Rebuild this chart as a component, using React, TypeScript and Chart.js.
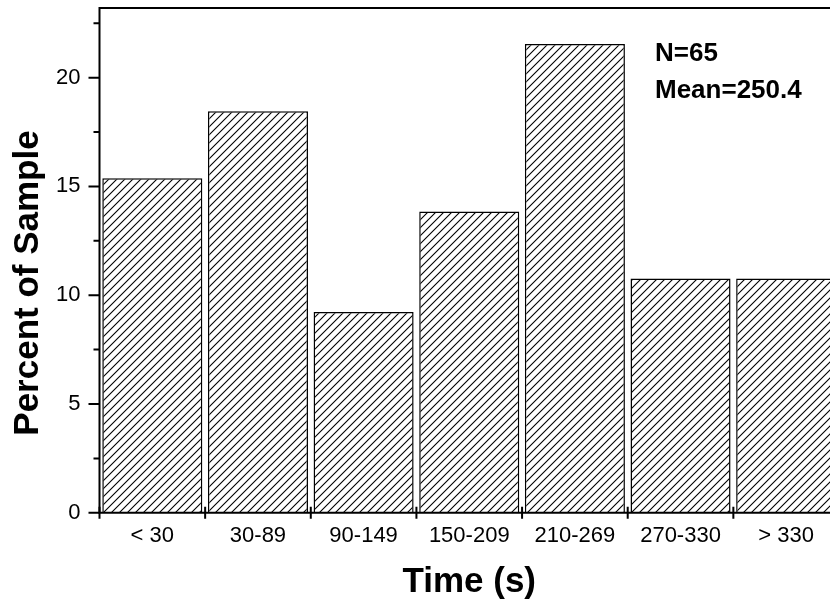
import React, { useEffect, useRef } from "react";
import { Chart, registerables } from "chart.js";

Chart.register(...registerables);

const categories = ["< 30", "30-89", "90-149", "150-209", "210-269", "270-330", "> 330"];
const percentValues = [15.38, 18.46, 9.23, 13.85, 21.54, 10.77, 10.77];
const yTickValues = [0, 5, 10, 15, 20];
const yMinorTickValues = [2.5, 7.5, 12.5, 17.5, 22.5];
const annotationLines = ["N=65", "Mean=250.4"];
const xTitle = "Time (s)";
const yTitle = "Percent of Sample";

const FONT = "'Liberation Sans', Arial, sans-serif";

function makeHatch(ctx: CanvasRenderingContext2D) {
  const c = document.createElement("canvas");
  c.width = 8;
  c.height = 8;
  const g = c.getContext("2d")!;
  g.fillStyle = "#fff";
  g.fillRect(0, 0, 8, 8);
  g.strokeStyle = "#000";
  g.lineWidth = 1.1;
  g.beginPath();
  g.moveTo(-1, 9);
  g.lineTo(9, -1);
  g.moveTo(-1, 1);
  g.lineTo(1, -1);
  g.moveTo(7, 9);
  g.lineTo(9, 7);
  g.stroke();
  return ctx.createPattern(c, "repeat");
}

const framePlugin = {
  id: "frameAndText",
  afterDraw(chart: any) {
    const ctx: CanvasRenderingContext2D = chart.ctx;
    const { left, right, top, bottom } = chart.chartArea;
    const xs = chart.scales.x;
    const ys = chart.scales.y;
    ctx.save();
    ctx.strokeStyle = "#000";
    ctx.lineWidth = 2;
    ctx.beginPath();
    ctx.moveTo(left, top);
    ctx.lineTo(right, top);
    ctx.lineTo(right, bottom);
    ctx.lineTo(left, bottom);
    ctx.closePath();
    ctx.stroke();
    // y ticks
    ctx.beginPath();
    yTickValues.forEach((v) => {
      const p = ys.getPixelForValue(v);
      ctx.moveTo(left - 11, p);
      ctx.lineTo(left, p);
    });
    yMinorTickValues.forEach((v) => {
      const p = ys.getPixelForValue(v);
      ctx.moveTo(left - 6, p);
      ctx.lineTo(left, p);
    });
    // x ticks at category boundaries
    const n = categories.length;
    const w = (xs.right - xs.left) / n;
    for (let i = 0; i <= n; i++) {
      const p = xs.left + i * w;
      ctx.moveTo(p, bottom - 6);
      ctx.lineTo(p, bottom + 6);
    }
    ctx.stroke();

    // titles
    ctx.fillStyle = "#000";
    ctx.font = `bold 35px ${FONT}`;
    ctx.textAlign = "center";
    ctx.textBaseline = "alphabetic";
    ctx.fillText(xTitle, (left + right) / 2, 592);
    ctx.save();
    ctx.translate(38, 283);
    ctx.rotate(-Math.PI / 2);
    ctx.fillText(yTitle, 0, 0);
    ctx.restore();

    // annotation
    ctx.font = `bold 26px ${FONT}`;
    ctx.textAlign = "left";
    ctx.fillText(annotationLines[0], 655, 61);
    ctx.fillText(annotationLines[1], 655, 98);
    ctx.restore();
  },
};

export default function App() {
  const ref = useRef<HTMLCanvasElement | null>(null);
  useEffect(() => {
    const canvas = ref.current!;
    const ctx = canvas.getContext("2d")!;
    const hatch = makeHatch(ctx);
    const chart = new Chart(canvas, {
      type: "bar",
      data: {
        labels: categories,
        datasets: [
          {
            data: percentValues,
            backgroundColor: hatch as any,
            borderColor: "#000",
            borderWidth: 1.5,
            categoryPercentage: 0.947,
            barPercentage: 1,
          },
        ],
      },
      options: {
        responsive: false,
        animation: false,
        events: [],
        layout: { padding: { top: 8, right: 21, left: 0, bottom: 0 } },
        plugins: { legend: { display: false }, tooltip: { enabled: false } },
        scales: {
          x: {
            type: "category",
            offset: true,
            grid: { display: false, drawTicks: false },
            border: { display: false },
            ticks: {
              font: { family: FONT, size: 22 },
              color: "#000",
              padding: 10,
              maxRotation: 0,
              autoSkip: false,
            },
            afterFit: (s: any) => {
              s.height = 89.2;
              s.paddingLeft = 0;
              s.paddingRight = 0;
            },
          },
          y: {
            min: 0,
            max: 23.2,
            grid: { display: false, drawTicks: false },
            border: { display: false },
            ticks: {
              font: { family: FONT, size: 22 },
              color: "#000",
              padding: 19,
            },
            afterBuildTicks: (s: any) => {
              s.ticks = yTickValues.map((v) => ({ value: v }));
            },
            afterFit: (s: any) => {
              s.width = 99.5;
              s.paddingTop = 0;
              s.paddingBottom = 0;
            },
          },
        },
      },
      plugins: [framePlugin],
    });
    return () => chart.destroy();
  }, []);
  return (
    <div
      style={{
        position: "fixed",
        left: 0,
        top: 0,
        width: 830,
        height: 602,
        overflow: "hidden",
        background: "#fff",
      }}
    >
      <canvas ref={ref} width={860} height={602} style={{ display: "block" }} />
    </div>
  );
}
